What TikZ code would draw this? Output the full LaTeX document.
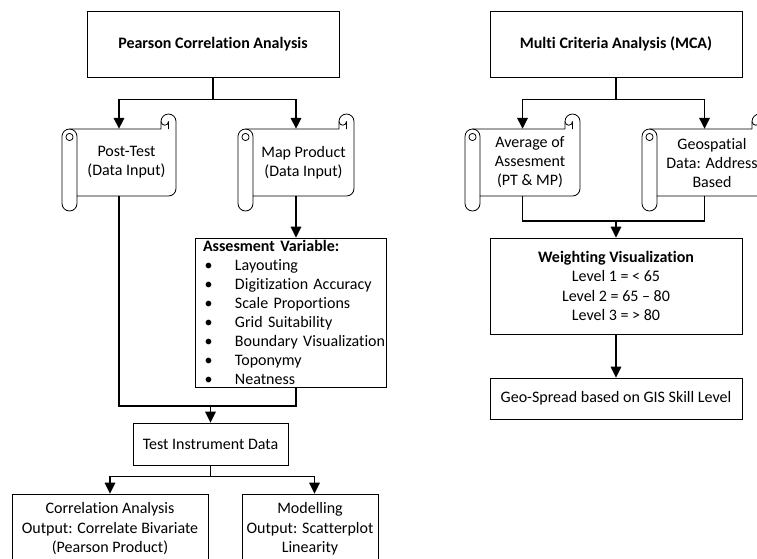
\documentclass[tikz,border=0pt]{standalone}
\usepackage{fontspec}
\setmainfont{Carlito}[Ligatures=NoCommon]
\usetikzlibrary{arrows.meta}
\newcommand\scrR{7.5}
\newcommand\bitem{\makebox[32pt][l]{\hspace{1.5pt}\textbullet}}
% scroll outline: #1 = body left (inner roll line), #2 = body top, #3 = body right, #4 = body bottom
\newcommand\scrollshape[4]{%
  \draw[scrollline, fill=white] ({#1-\scrR},#2) -- ({#3-2*\scrR},#2) -- ({#3-2*\scrR},{#2-\scrR})
     arc[start angle=180, end angle=360, radius=\scrR] -- (#3,{#4-\scrR})
     arc[start angle=0, end angle=90, radius=\scrR] -- (#1,#4) -- (#1,{#4+\scrR})
     arc[start angle=0, end angle=180, radius=\scrR] -- ({#1-2*\scrR},{#2+\scrR})
     arc[start angle=180, end angle=270, radius=\scrR] -- cycle;
  \draw[scrollline] (#1,#4) -- (#1,{#2+\scrR}) arc[start angle=0, end angle=-90, radius=\scrR];
  \draw[scrollline] ({#1-\scrR},{#2+\scrR+0.5}) circle[radius=3.6];
  \draw[scrollline] ({#3-\scrR},#2) -- ({#3-\scrR},{#2-\scrR}) arc[start angle=0, end angle=180, radius=\scrR/2];
}
\begin{document}
\begin{tikzpicture}[x=1pt, y=-1pt,
  plainbox/.style={draw, line width=0.8pt, inner sep=2pt, align=center, font=\fontsize{16}{19.5}\selectfont},
  titlebox/.style={plainbox, font=\fontsize{16}{19.5}\selectfont\bfseries},
  scrolltext/.style={inner sep=0pt, align=center, font=\fontsize{16}{19}\selectfont},
  scrollline/.style={line width=0.8pt, line join=round},
  wire/.style={line width=1.7pt},
  arrowwire/.style={line width=1.7pt, -{Triangle[width=10.5pt,length=11pt]}}]
\useasboundingbox (0,0) rectangle (757,558);
\clip (0,0) rectangle (757,558);
\fill[white] (0,0) rectangle (757,558);

% ---------- left column ----------
\node[titlebox, minimum width=252pt, minimum height=66pt] (pearson) at (213,44) {Pearson Correlation Analysis};

\scrollshape{77}{129}{176}{196}
\node[scrolltext, minimum width=99pt, minimum height=67pt] (post) at (126.5,162.5) {Post-Test\\(Data Input)};

\scrollshape{253}{129}{354}{196}
\node[scrolltext, minimum width=101pt, minimum height=67pt] (map) at (303.5,162.5) {Map Product\\(Data Input)};

\node[plainbox, minimum width=191pt, minimum height=149pt, text width=175pt, align=left,
      inner xsep=8pt, inner ysep=0pt, font=\fontsize{16}{19}\selectfont] (assess) at (290.5,312.5)
  {\textbf{Assesment Variable:}\\
   \bitem Layouting\\
   \bitem \mbox{Digitization Accuracy}\\
   \bitem \mbox{Scale Proportions}\\
   \bitem \mbox{Grid Suitability}\\
   \bitem \mbox{Boundary Visualization}\\
   \bitem Toponymy\\
   \bitem Neatness};

\node[plainbox, minimum width=155pt, minimum height=42pt] (test) at (210.5,444) {Test Instrument Data};

\node[plainbox, minimum width=196pt, minimum height=70pt] (corr) at (110,529)
  {Correlation Analysis\\Output: Correlate Bivariate\\(Pearson Product)};
\node[plainbox, minimum width=136pt, minimum height=70pt] (model) at (310,529)
  {Modelling\\Output: Scatterplot\\Linearity};

\coordinate (jl) at (210.5,406);

\draw[arrowwire] (pearson.south) -- ++(0,22) -| ([xshift=-7.5pt]post.north);
\draw[arrowwire] (pearson.south) -- ++(0,22) -| ([xshift=-7.5pt]map.north);
\draw[arrowwire] ([xshift=-7.5pt]map.south) -- ([xshift=-7.5pt]map.south |- assess.north);
\draw[wire] ([xshift=-7.5pt]post.south) |- (jl) -| ([xshift=-7.5pt]map.south |- assess.south);
\draw[arrowwire] (jl) -- (test.north);
\draw[arrowwire] (test.south) -- ++(0,11) -| (corr.north);
\draw[arrowwire] (test.south) -- ++(0,11) -| ([xshift=4.5pt]model.north);

% ---------- right column ----------
\node[titlebox, minimum width=252pt, minimum height=66pt] (mca) at (616,44) {Multi Criteria Analysis (MCA)};

\scrollshape{480}{129}{580}{196}
\node[scrolltext, minimum width=100pt, minimum height=67pt] (avg) at (530,162.5) {Average of\\Assesment\\(PT \& MP)};

\scrollshape{657}{129}{767}{196}
\node[scrolltext, minimum width=110pt, minimum height=67pt] (geo) at (712,162.5) {Geospatial\\Data: Address\\Based};

\node[plainbox, minimum width=252pt, minimum height=96pt] (weight) at (616,286)
  {\textbf{Weighting Visualization}\\Level 1 = < 65\\Level 2 = 65 -- 80\\Level 3 = > 80};
\node[plainbox, minimum width=252pt, minimum height=41pt] (spread) at (616,398.5) {Geo-Spread based on GIS Skill Level};

\coordinate (jr) at (616,221);

\draw[arrowwire] (mca.south) -- ++(0,22) -| ([xshift=-7.5pt]avg.north);
\draw[arrowwire] (mca.south) -- ++(0,22) -| ([xshift=-7.5pt]geo.north);
\draw[wire] ([xshift=-7.5pt]avg.south) |- (jr) -| ([xshift=-7.5pt]geo.south);
\draw[arrowwire] (jr) -- (weight.north);
\draw[arrowwire] (weight.south) -- (spread.north);
\end{tikzpicture}
\end{document}
